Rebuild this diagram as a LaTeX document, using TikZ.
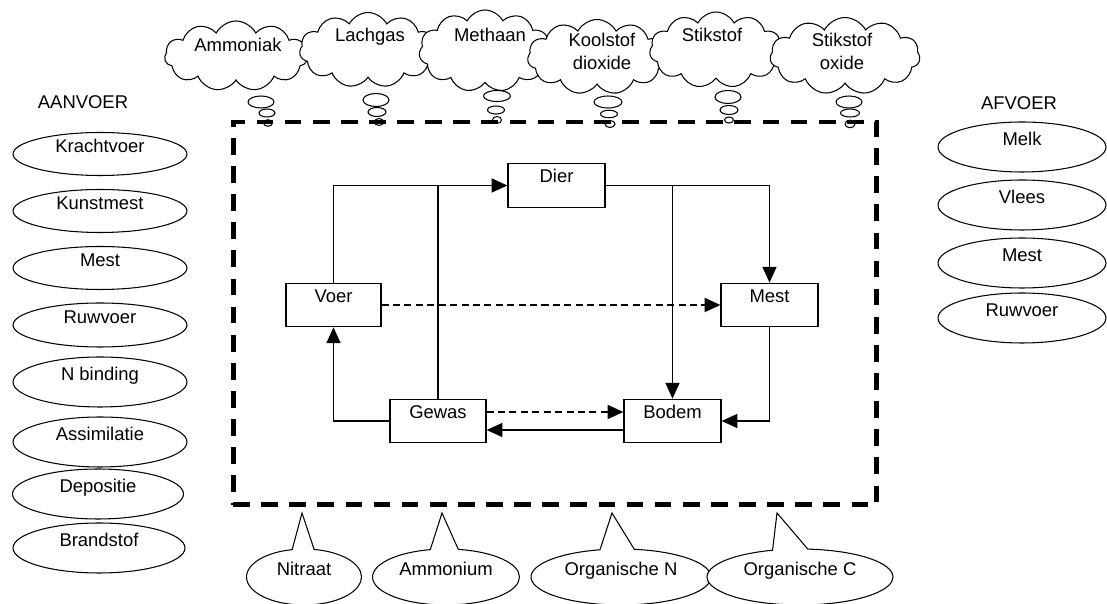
\documentclass[tikz,border=0pt]{standalone}
\usepackage{fontspec}
\setmainfont{Liberation Sans}
\usetikzlibrary{positioning, arrows.meta, shapes.geometric, shapes.symbols, shapes.callouts}
\tikzset{%
  every compartment/.style={
    rectangle,
    draw,
    line width=0.7pt,
    minimum width=1.94cm,
    minimum height=0.87cm,
    inner sep=0pt,
    text height=6pt,
    text depth=9pt
  },
  every flow/.style={
    ellipse,
    draw,
    line width=0.6pt,
    minimum width=3.48cm,
    inner sep=0pt,
    text height=6pt,
    text depth=7.5pt
  },
  every gas/.style={
    cloud,
    cloud puffs=11,
    cloud puff arc=125,
    cloud ignores aspect,
    draw,
    fill=white,
    line width=0.6pt,
    inner sep=0pt
  },
  every puff/.style={
    ellipse,
    draw,
    fill=white,
    line width=0.6pt,
    inner sep=0pt
  },
  every leak/.style={
    ellipse callout,
    draw,
    fill=white,
    line width=0.6pt,
    minimum height=1.12cm,
    inner sep=0pt,
    callout pointer arc=22,
    text height=6pt,
    text depth=7.5pt
  },
  farm boundary/.style={
    draw,
    line width=2.8pt,
    dash pattern=on 9.5pt off 6.5pt
  }
}

\begin{document}
\begin{tikzpicture}[x=0.02cm, y=-0.02cm, >={Triangle[length=9pt, width=8pt]},
  font=\fontsize{10.5}{12.6}\selectfont,
  flow line/.style={line width=0.8pt},
  side flow/.style={line width=1pt, dash pattern=on 4pt off 2.5pt}]
		\useasboundingbox (0,0) rectangle (1107,604);
		%% aanvoer
		\node (aanvoer) at (83,102) {AANVOER};
		\node[every flow, minimum height=0.86cm] (krachtvoer) at (100,154) {Krachtvoer};
		\node[every flow, minimum height=0.86cm] (kunstmest) at (100,211) {Kunstmest};
		\node[every flow, minimum height=0.86cm] (mestin) at (100,268) {Mest};
		\node[every flow, minimum height=0.88cm] (ruwvoerin) at (100,325) {Ruwvoer};
		\node[every flow, minimum height=1cm] (nbinding) at (100,382) {N binding};
		\node[every flow, minimum height=1cm] (assimilatie) at (100,442) {Assimilatie};
		\node[every flow, minimum height=1cm, minimum width=3.42cm] (depositie) at (98,494) {Depositie};
		\node[every flow, minimum height=1cm, minimum width=3.44cm] (brandstof) at (99,548) {Brandstof};
		%% afvoer
		\node (afvoer) at (1019,103) {AFVOER};
		\node[every flow, minimum height=1cm, minimum width=3.36cm] (melk) at (1022,147) {Melk};
		\node[every flow, minimum height=1cm, minimum width=3.36cm] (vlees) at (1022,205) {Vlees};
		\node[every flow, minimum height=1cm, minimum width=3.36cm] (mestuit) at (1022,263) {Mest};
		\node[every flow, minimum height=1cm, minimum width=3.36cm] (ruwvoeruit) at (1022,318) {Ruwvoer};
		%% emissies
		\node[every gas, minimum width=2.86cm, minimum height=1.40cm] (ammoniak) at (236,56) {};
		\node (ammoniaktxt) at (238,45) {Ammoniak};
		\node[every gas, minimum width=2.74cm, minimum height=1.50cm] (lachgas) at (368,50) {};
		\node (lachgastxt) at (370,37) {Lachgas};
		\node[every gas, minimum width=2.64cm, minimum height=1.64cm] (methaan) at (485,51) {};
		\node (methaantxt) at (490,35) {Methaan};
		\node[every gas, minimum width=2.78cm, minimum height=1.50cm] (koolstof) at (597,57) {};
		\node[align=center, font=\fontsize{10.5}{13}\selectfont] (koolstoftxt) at (602,51) {Koolstof\\dioxide};
		\node[every gas, minimum width=2.66cm, minimum height=1.52cm] (stikstof) at (716,50) {};
		\node (stikstoftxt) at (712,35) {Stikstof};
		\node[every gas, minimum width=3.0cm, minimum height=1.54cm] (stikstofoxide) at (845,56) {};
		\node[align=center, font=\fontsize{10.5}{13}\selectfont] (stikstofoxidetxt) at (842,51) {Stikstof\\oxide};
		%% bubbles
		\node[every puff, minimum width=0.52cm, minimum height=0.24cm] (ammoniak1) at (261,102) {};
		\node[every puff, minimum width=0.32cm, minimum height=0.16cm] (ammoniak2) at (267,113) {};
		\node[every puff, minimum width=0.18cm, minimum height=0.13cm] (ammoniak3) at (268,123) {};
		\node[every puff, minimum width=0.52cm, minimum height=0.26cm] (lachgas1) at (376,100) {};
		\node[every puff, minimum width=0.36cm, minimum height=0.18cm] (lachgas2) at (377,112) {};
		\node[every puff, minimum width=0.18cm, minimum height=0.14cm] (lachgas3) at (379,122) {};
		\node[every puff, minimum width=0.54cm, minimum height=0.22cm] (methaan1) at (497,96) {};
		\node[every puff, minimum width=0.34cm, minimum height=0.16cm] (methaan2) at (496,110) {};
		\node[every puff, minimum width=0.18cm, minimum height=0.14cm] (methaan3) at (497,120) {};
		\node[every puff, minimum width=0.56cm, minimum height=0.24cm] (koolstof1) at (608,102) {};
		\node[every puff, minimum width=0.34cm, minimum height=0.15cm] (koolstof2) at (609,114) {};
		\node[every puff, minimum width=0.20cm, minimum height=0.14cm] (koolstof3) at (610,124) {};
		\node[every puff, minimum width=0.52cm, minimum height=0.26cm] (stikstof1) at (728,97) {};
		\node[every puff, minimum width=0.36cm, minimum height=0.18cm] (stikstof2) at (729,110) {};
		\node[every puff, minimum width=0.18cm, minimum height=0.12cm] (stikstof3) at (729,120) {};
		\node[every puff, minimum width=0.52cm, minimum height=0.24cm] (stikstofoxide1) at (849,102) {};
		\node[every puff, minimum width=0.38cm, minimum height=0.16cm] (stikstofoxide2) at (850,113) {};
		\node[every puff, minimum width=0.20cm, minimum height=0.15cm] (stikstofoxide3) at (850,124) {};
		%% bedrijf
		\node[farm boundary, minimum width=12.88cm, minimum height=7.66cm] (farm) at (555,313.5) {};
		\node[every compartment] (dier) at (556.5,185.5) {Dier};
		\node[every compartment, minimum width=1.90cm] (voer) at (333.5,305) {Voer};
		\node[every compartment] (mest) at (769.5,305) {Mest};
		\node[every compartment, minimum width=1.92cm] (gewas) at (438,421) {Gewas};
		\node[every compartment] (bodem) at (672.5,421) {Bodem};
		%% stromen
		\draw[flow line, ->] (voer.north) |- (dier.west);
		\draw[flow line] (gewas.north) -- (gewas.north |- dier.west);
		\draw[flow line, ->] (dier.east) -| (mest.north);
		\draw[flow line, ->] (bodem.north |- dier.east) -- (bodem.north);
		\draw[side flow, ->] (voer.east) -- (mest.west);
		\draw[flow line, ->] (gewas.west) -| (voer.south);
		\draw[side flow, ->] ([yshift=0.18cm]gewas.east) -- ([yshift=0.18cm]bodem.west);
		\draw[flow line, ->] ([yshift=-0.18cm]bodem.west) -- ([yshift=-0.18cm]gewas.east);
		\draw[flow line, ->] (mest.south) |- (bodem.east);
		%% verliezen
		\coordinate (nitraatpin) at (302,513);
		\coordinate (ammoniumpin) at (442,513);
		\coordinate (orgnpin) at (612,513);
		\coordinate (orgcpin) at (777,513);
		\node[every leak, minimum width=2.30cm, callout absolute pointer=(nitraatpin)] (nitraat) at (304,577) {Nitraat};
		\node[every leak, minimum width=2.94cm, callout absolute pointer=(ammoniumpin)] (ammonium) at (446,577) {Ammonium};
		\node[every leak, minimum width=3.60cm, callout absolute pointer=(orgnpin)] (orgn) at (621,577) {Organische N};
		\node[every leak, minimum width=3.72cm, callout absolute pointer=(orgcpin)] (orgc) at (800,577) {Organische C};
	\end{tikzpicture}
\end{document}
